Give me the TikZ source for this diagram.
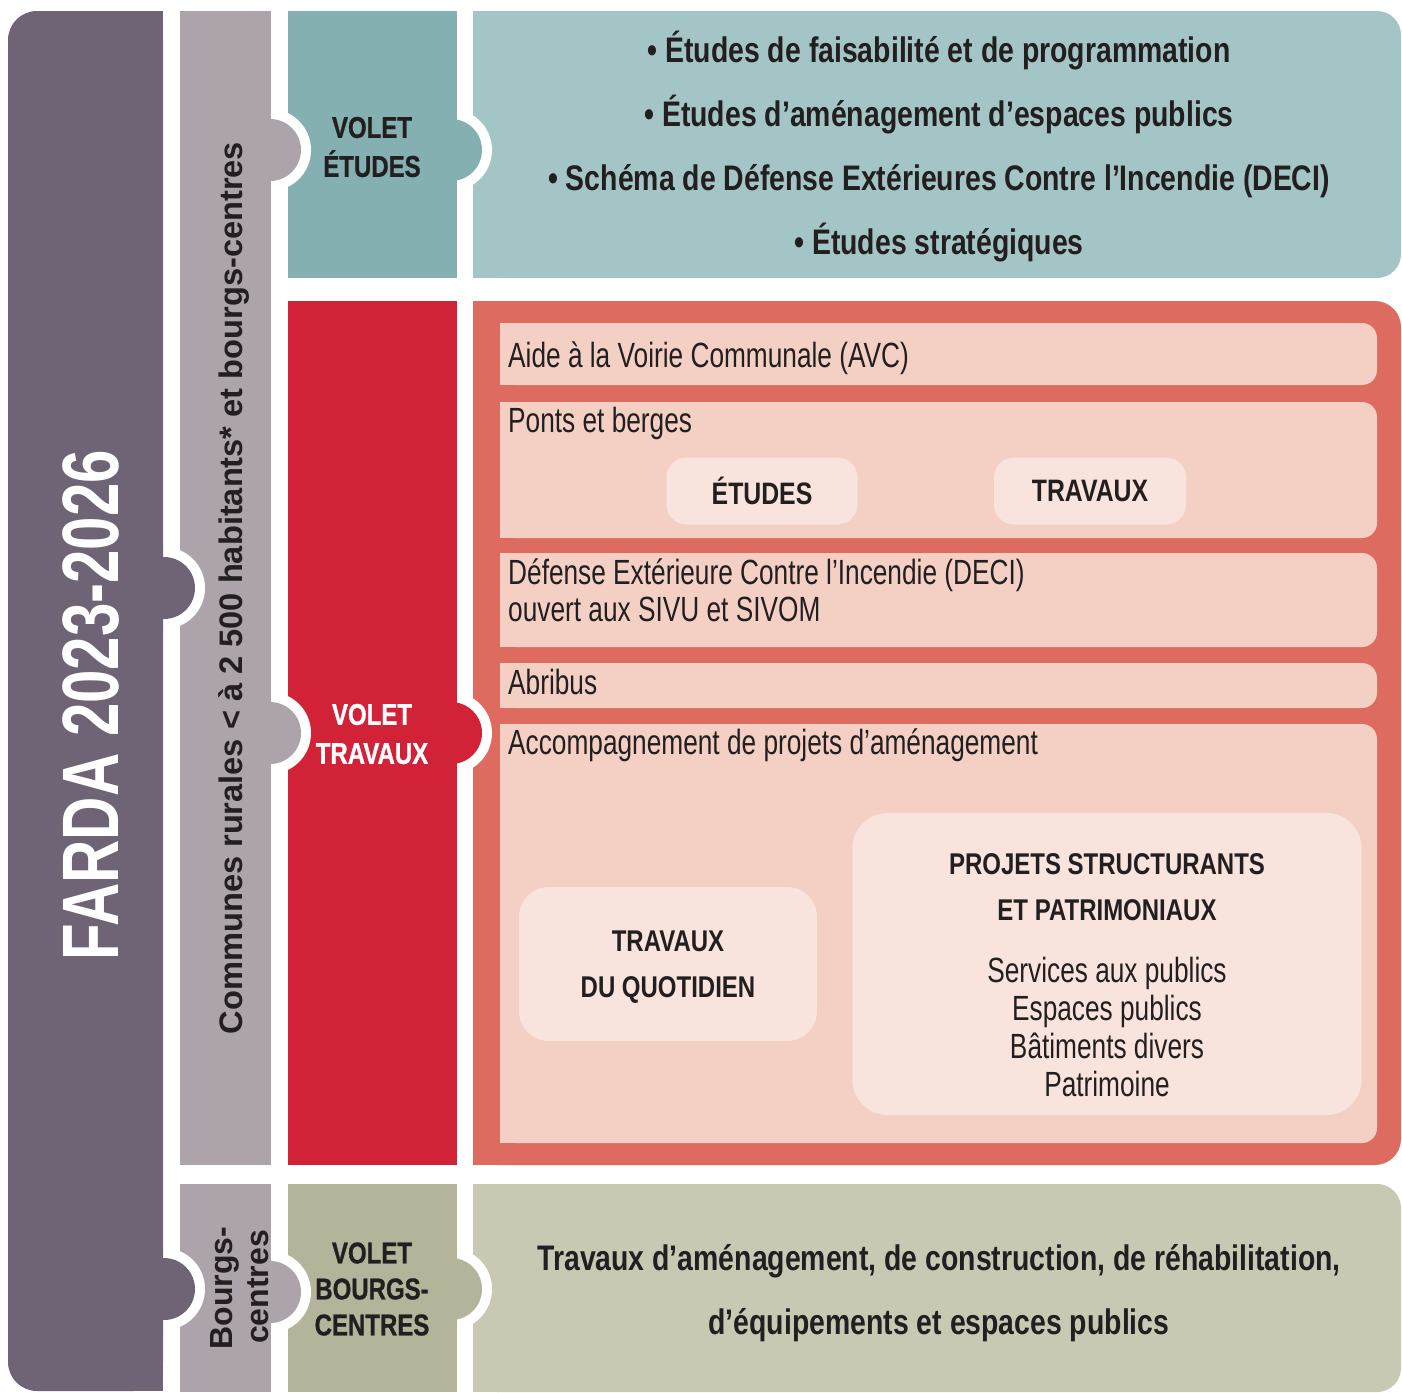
\documentclass[tikz,border=0pt]{standalone}
\usepackage{fontspec}
\usepackage{tikz}
\usetikzlibrary{calc}

\newfontfamily\condreg{Liberation Sans}[FakeStretch=0.75]
\newfontfamily\condbold{Liberation Sans}[FakeStretch=0.8]
\newfontfamily\condheavy{Liberation Sans}[FakeStretch=0.8, FakeBold=0.9]
\newfontfamily\plainsans{Liberation Sans}

\definecolor{farda}{HTML}{6E6475}
\definecolor{communes}{HTML}{ADA3AB}
\definecolor{etudesfonce}{HTML}{84B0B2}
\definecolor{etudesclair}{HTML}{A4C5C6}
\definecolor{travauxfonce}{HTML}{D22237}
\definecolor{travauxclair}{HTML}{DD6B60}
\definecolor{rose}{HTML}{F4D0C4}
\definecolor{roseclair}{HTML}{F8E4DC}
\definecolor{bourgsfonce}{HTML}{B4B49A}
\definecolor{bourgsclair}{HTML}{C8C8B3}
\definecolor{encre}{HTML}{231F20}

\begin{document}
\begin{tikzpicture}[x=1pt, y=-1pt,
            volet/.style={font=\condheavy\bfseries\fontsize{30}{39}\selectfont, align=center, text=encre},
            puce/.style={font=\condbold\bfseries\fontsize{35.5}{40}\selectfont, anchor=base, text=encre, inner sep=0pt},
            ligne/.style={font=\condreg\fontsize{35}{40}\selectfont, anchor=base west, text=encre, inner sep=0pt},
            sousbloc/.style={fill=roseclair, rounded corners=20, text=encre, align=center,
                font=\condbold\bfseries\fontsize{31}{46}\selectfont},
            vertical/.style={rotate=90, anchor=base, inner sep=0pt}]

            \useasboundingbox (0,0) rectangle (1402,1392);

            % colonne de droite
            \fill[etudesclair, rounded corners=24] (473,11) rectangle (1401,278);
            \fill[etudesclair] (473,11) rectangle (700,278);
            \fill[travauxclair, rounded corners=26] (473,301) rectangle (1401,1165);
            \fill[travauxclair] (473,301) rectangle (700,1165);
            \fill[bourgsclair, rounded corners=24] (473,1184) rectangle (1401,1392);
            \fill[bourgsclair] (473,1184) rectangle (700,1392);

            \foreach \haut/\bas in {323/385, 402/538, 553/647, 663/708, 724/1143}{
                \fill[rose, rounded corners=15] (500,\haut) rectangle (1377,\bas);
                \fill[rose] (500,\haut) rectangle (600,\bas);
            }

            % volets
            \foreach \y in {150,733,1289} \fill[white] (451,\y) circle (41);
            \fill[etudesfonce] (288,11) rectangle (457,278);
            \fill[travauxfonce] (288,301) rectangle (457,1165);
            \fill[bourgsfonce] (288,1184) rectangle (457,1392);
            \fill[etudesfonce] (451,150) circle (31);
            \fill[travauxfonce] (451,733) circle (31);
            \fill[bourgsfonce] (451,1289) circle (31);

            % communes
            \foreach \y in {150,733,1292} \fill[white] (270,\y) circle (41);
            \fill[communes] (180,11) rectangle (271,1165);
            \fill[communes] (180,1184) rectangle (271,1392);
            \foreach \y in {150,733,1292} \fill[communes] (270,\y) circle (31);

            % FARDA
            \foreach \y in {588,1289} \fill[white] (164,\y) circle (41);
            \fill[farda, rounded corners=29] (8,11) rectangle (163,1391);
            \fill[farda] (100,11) rectangle (163,1391);
            \foreach \y in {588,1289} \fill[farda] (164,\y) circle (31);

            % textes
            \node[vertical, text=white, font=\condreg\bfseries\fontsize{80}{90}\selectfont] (farda) at (118,705) {FARDA 2023-2026};
            \node[vertical, text=encre, font=\plainsans\bfseries\fontsize{32.6}{38}\selectfont] (rurales) at (242,588) {Communes rurales < à 2 500 habitants* et bourgs-centres};
            \node[vertical, text=encre, font=\plainsans\bfseries\fontsize{32}{38}\selectfont] (bourgs) at (232,1288) {Bourgs-};
            \node[vertical, text=encre, font=\plainsans\bfseries\fontsize{32}{38}\selectfont] (centres) at (268,1287) {centres};

            \node[volet] (voletetudes) at (372,147) {VOLET\\ÉTUDES};
            \node[volet, text=white] (volettravaux) at (372,734) {VOLET\\TRAVAUX};
            \node[volet, font=\condheavy\bfseries\fontsize{30}{36}\selectfont] (voletbourgs) at (372,1289) {VOLET\\BOURGS-\\CENTRES};

            \node[puce] (etu1) at (939,62) {• Études de faisabilité et de programmation};
            \node[puce] (etu2) at (939,126) {• Études d’aménagement d’espaces publics};
            \node[puce] (etu3) at (939,190) {• Schéma de Défense Extérieures Contre l’Incendie (DECI)};
            \node[puce] (etu4) at (939,254) {• Études stratégiques};

            \node[ligne] (avc) at (508,367) {Aide à la Voirie Communale (AVC)};
            \node[ligne] (ponts) at (508,432) {Ponts et berges};
            \node[ligne] (deci) at (508,584) {Défense Extérieure Contre l’Incendie (DECI)};
            \node[ligne] (sivu) at (508,621) {ouvert aux SIVU et SIVOM};
            \node[ligne] (abribus) at (508,694) {Abribus};
            \node[ligne] (accomp) at (508,754) {Accompagnement de projets d’aménagement};

            \node[sousbloc, minimum width=191, minimum height=67] (pontsetudes) at (762,491) {ÉTUDES};
            \node[sousbloc, minimum width=192, minimum height=67] (pontstravaux) at (1090,491) {TRAVAUX};
            \node[sousbloc, rounded corners=30, minimum width=298, minimum height=154] (quotidien) at (668,964) {};
            \node[volet, font=\condbold\bfseries\fontsize{30}{46}\selectfont] (quotidientexte) at (668,967) {TRAVAUX\\DU QUOTIDIEN};
            \node[sousbloc, rounded corners=35, minimum width=509, minimum height=302] (projets) at (1107,964) {};
            \node[volet, font=\condbold\bfseries\fontsize{30}{46}\selectfont] (projtitre) at (1107,887) {PROJETS STRUCTURANTS\\ET PATRIMONIAUX};
            \node[align=center, text=encre, font=\condreg\fontsize{35}{38}\selectfont] (projliste) at (1107,1027) {Services aux publics\\Espaces publics\\Bâtiments divers\\Patrimoine};

            \node[puce] (bc1) at (939,1270) {Travaux d’aménagement, de construction, de réhabilitation,};
            \node[puce] (bc2) at (939,1334) {d’équipements et espaces publics};

        \end{tikzpicture}
\end{document}
